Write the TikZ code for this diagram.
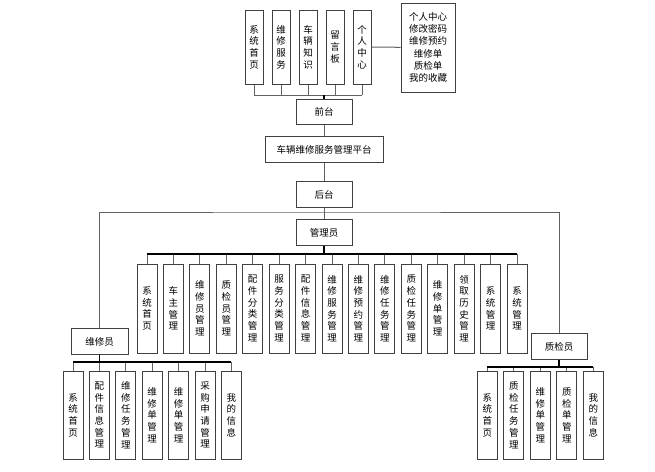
\documentclass[tikz,border=0pt]{standalone}
\usepackage{fontspec}
\setmainfont{Noto Sans CJK SC}
\begin{document}
\begin{tikzpicture}
    [ x=1pt, y=1pt
    , box/.style={draw=black!75, line width=1pt, fill=white, inner sep=0pt,
                  align=center, font=\fontsize{9.5}{11.7}\selectfont}
    , hbox/.style={box, minimum width=56pt, minimum height=25.5pt}
    , vbox/.style={box, minimum width=20pt, minimum height=88pt}
    , link/.style={draw=black!62, line width=1pt}
    , bus/.style={draw=black, line width=1.4pt}
    ]
\useasboundingbox (0,0) rectangle (655,-471);

% front end
\foreach \lbl [count=\i] in {系\\统\\首\\页, 维\\修\\服\\务, 车\\辆\\知\\识,
                             留\\言\\板, 个\\人\\中\\心}
    \node[vbox, minimum width=18pt, minimum height=74pt] (t\i) at (227+27*\i,-47) {\lbl};
\node[box, minimum width=54pt, minimum height=89pt,
      font=\fontsize{9.5}{12.3}\selectfont] (home) at (428,-47.5)
    {个人中心\\修改密码\\维修预约\\维修单\\质检单\\我的收藏};

\node[hbox] (front) at (324,-112) {前台};
\node[hbox, minimum width=118pt] (platform) at (324,-149.5) {车辆维修服务管理平台};
\node[hbox] (back) at (324,-194.5) {后台};
\node[hbox] (admin) at (324,-232.5) {管理员};
\node[hbox, minimum width=57pt] (repairer) at (99.5,-341.5) {维修员};
\node[hbox] (checker) at (559,-346.5) {质检员};

% admin
\foreach \lbl [count=\i] in {系\\统\\首\\页, 车\\主\\管\\理, 维\\修\\员\\管\\理,
        质\\检\\员\\管\\理, 配\\件\\分\\类\\管\\理, 服\\务\\分\\类\\管\\理,
        配\\件\\信\\息\\管\\理, 维\\修\\服\\务\\管\\理, 维\\修\\预\\约\\管\\理,
        维\\修\\任\\务\\管\\理, 质\\检\\任\\务\\管\\理, 维\\修\\单\\管\\理,
        领\\取\\历\\史\\管\\理, 系\\统\\管\\理, 系\\统\\管\\理}
    \node[vbox, minimum height=89pt] (a\i) at (120.57+26.43*\i,-308.5) {\lbl};

% repairer
\foreach \lbl [count=\i] in {系\\统\\首\\页, 配\\件\\信\\息\\管\\理, 维\\修\\任\\务\\管\\理,
        维\\修\\单\\管\\理, 维\\修\\单\\管\\理, 采\\购\\申\\请\\管\\理, 我\\的\\信\\息}
    \node[vbox] (w\i) at (46.6+26.4*\i,-415) {\lbl};

% checker
\foreach \lbl [count=\i] in {系\\统\\首\\页, 质\\检\\任\\务\\管\\理, 维\\修\\单\\管\\理,
        质\\检\\单\\管\\理, 我\\的\\信\\息}
    \node[vbox] (z\i) at (460.8+26.5*\i,-415) {\lbl};

\coordinate (topbus) at (324,-95);
\coordinate (split) at (324,-212);
\coordinate (abus) at (324,-254);
\coordinate (wbus) at (99.5,-362);
\coordinate (zbus) at (559,-367);

\foreach \i in {1,...,5}
    \draw[link] (t\i.south) -- (t\i.south |- topbus);
\draw[link] (t1.south |- topbus) -- (t5.south |- topbus);
\draw[bus] (topbus) -- (front.north);
\draw[link] (t5) -- (home);
\draw[link] (front) -- (platform);
\draw[link] (platform) -- (back);
\draw[link] (back) -- (admin);
\draw[link] (repairer.north) |- (split) -| (checker.north);

\foreach \i in {1,...,15}
    \draw[link] (a\i.north |- abus) -- (a\i.north);
\draw[bus] (a1.north |- abus) -- (a15.north |- abus);
\draw[bus] (admin.south) -- (abus);

\foreach \i in {1,...,7}
    \draw[link] (w\i.north |- wbus) -- (w\i.north);
\draw[bus] (w1.north |- wbus) -- (w7.north |- wbus);
\draw[bus] (repairer.south) -- (wbus);

\foreach \i in {1,...,5}
    \draw[link] (z\i.north |- zbus) -- (z\i.north);
\draw[bus] (z1.north |- zbus) -- (z5.north |- zbus);
\draw[bus] (checker.south) -- (zbus);

\end{tikzpicture}
\end{document}
